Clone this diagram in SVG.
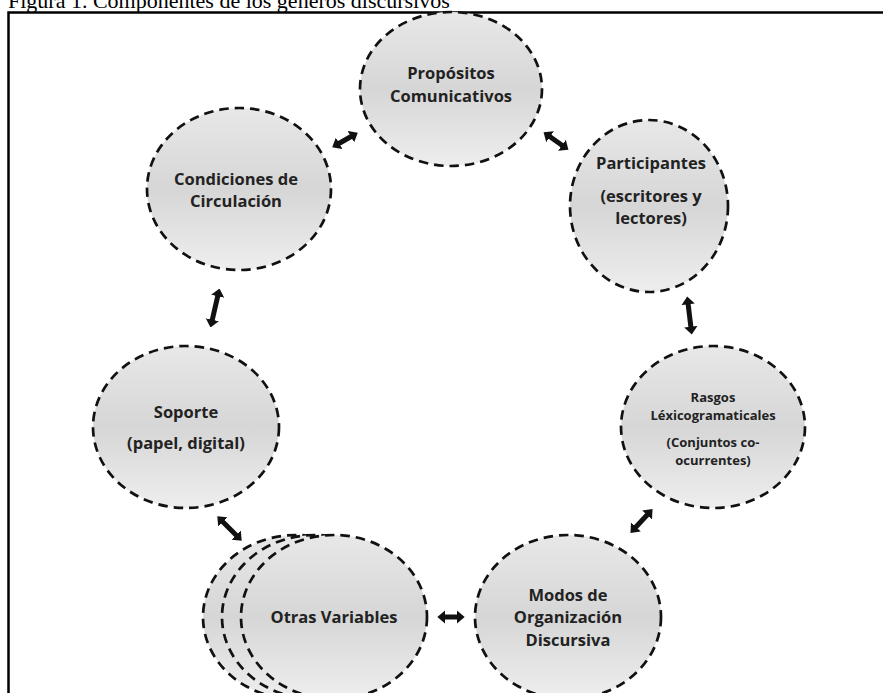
<svg xmlns="http://www.w3.org/2000/svg" width="883" height="693" viewBox="0 0 883 693">
<style>
.cap{font-family:"Liberation Serif","Times New Roman",serif;font-size:22px;fill:#000}
.n{fill:url(#g);stroke:#111;stroke-width:2.7;stroke-dasharray:9.5 6}
.t{font-family:"Open Sans",Lato,sans-serif;font-weight:bold;font-size:16.5px;fill:#222;text-anchor:middle}
.s{font-size:13px}
.a{stroke:#111;stroke-width:5;fill:none;marker-start:url(#ah);marker-end:url(#ah)}
</style>
<defs>
<linearGradient id="g" x1="0" y1="0" x2="0" y2="1">
<stop offset="0" stop-color="#e8e8e8"/>
<stop offset="0.5" stop-color="#d6d6d6"/>
<stop offset="1" stop-color="#eeeeee"/>
</linearGradient>
<marker id="ah" viewBox="0 0 6 10" refX="1" refY="5" markerWidth="1.6" markerHeight="2.7" orient="auto-start-reverse" markerUnits="strokeWidth">
<path d="M0,0 L6,5 L0,10 z" fill="#111"/>
</marker>
</defs>
<rect width="883" height="693" fill="#fff"/>
<text class="cap" x="8" y="8">Figura 1. Componentes de los géneros discursivos</text>
<rect x="8.5" y="12.5" width="900" height="700" fill="none" stroke="#000" stroke-width="2.5"/>

<g id="proposito">
<ellipse class="n" cx="451" cy="89" rx="91" ry="77"/>
<text class="t" x="451" y="79">Propósitos</text>
<text class="t" x="451" y="102">Comunicativos</text>
</g>
<g id="participantes">
<ellipse class="n" cx="649" cy="206" rx="79" ry="86"/>
<text class="t" x="651" y="169">Participantes</text>
<text class="t" x="651" y="202">(escritores y</text>
<text class="t" x="651" y="224">lectores)</text>
</g>
<g id="condiciones">
<ellipse class="n" cx="239" cy="189" rx="92" ry="81"/>
<text class="t" x="236" y="185">Condiciones de</text>
<text class="t" x="236" y="207">Circulación</text>
</g>
<g id="soporte">
<ellipse class="n" cx="186" cy="427" rx="93" ry="81"/>
<text class="t" x="186" y="418">Soporte</text>
<text class="t" x="186" y="449">(papel, digital)</text>
</g>
<g id="rasgos">
<ellipse class="n" cx="713" cy="427" rx="92" ry="81"/>
<text class="t s" x="713" y="402">Rasgos</text>
<text class="t s" x="713" y="420">Léxicogramaticales</text>
<text class="t s" x="713" y="447">(Conjuntos co-</text>
<text class="t s" x="713" y="465">ocurrentes)</text>
</g>
<g id="modos">
<ellipse class="n" cx="568" cy="617" rx="93" ry="82"/>
<text class="t" x="568" y="601">Modos de</text>
<text class="t" x="568" y="623">Organización</text>
<text class="t" x="568" y="646">Discursiva</text>
</g>
<g id="otras">
<ellipse class="n" cx="296" cy="617" rx="93" ry="82"/>
<ellipse class="n" cx="315" cy="617" rx="93" ry="82"/>
<ellipse class="n" cx="334" cy="617" rx="93" ry="82"/>
<text class="t" x="334" y="623">Otras Variables</text>
</g>

<g id="connectors">
<path class="a" d="M338,144 L352,136"/>
<path class="a" d="M549,136 L563,146"/>
<path class="a" d="M688,303 L691,328"/>
<path class="a" d="M648,514 L635,528"/>
<path class="a" d="M444,617 L458,617"/>
<path class="a" d="M222,521 L237,536"/>
<path class="a" d="M218,295 L212,321"/>
</g>
</svg>
